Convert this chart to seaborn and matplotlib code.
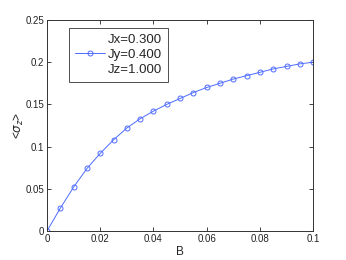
import numpy as np
import pandas as pd
import matplotlib
matplotlib.use('Agg')
import matplotlib.pyplot as plt
import seaborn as sns
from matplotlib.lines import Line2D

# data
b_values = [0.000, 0.005, 0.010, 0.015, 0.020, 0.025, 0.030, 0.035, 0.040, 0.045, 0.050,
            0.055, 0.060, 0.065, 0.070, 0.075, 0.080, 0.085, 0.090, 0.095, 0.100]
sigma_z = [0.000, 0.027, 0.052, 0.074, 0.092, 0.108, 0.122, 0.133, 0.142, 0.150, 0.157,
           0.164, 0.170, 0.175, 0.180, 0.184, 0.188, 0.192, 0.195, 0.198, 0.200]
legend_labels = ['Jx=0.300', 'Jy=0.400', 'Jz=1.000']
x_ticks = [0, 0.02, 0.04, 0.06, 0.08, 0.1]
x_tick_labels = ['0', '0.02', '0.04', '0.06', '0.08', '0.1']
y_ticks = [0, 0.05, 0.1, 0.15, 0.2, 0.25]
y_tick_labels = ['0', '0.05', '0.1', '0.15', '0.2', '0.25']

line_color = '#4f6cff'

sns.set_style('ticks')
plt.rcParams['font.family'] = ['Liberation Sans', 'DejaVu Sans']

df = pd.DataFrame({'B': b_values, 'sz': sigma_z})

fig = plt.figure(figsize=(3.46, 2.60), dpi=100)
ax = fig.add_axes([0.136, 0.112, 0.769, 0.811])

sns.lineplot(data=df, x='B', y='sz', ax=ax, color=line_color, linewidth=0.7,
             marker='o', markersize=3.6, markerfacecolor='none',
             markeredgecolor=line_color, markeredgewidth=0.7)

ax.set_xlim(0, 0.1)
ax.set_ylim(0, 0.25)
ax.set_xticks(x_ticks)
ax.set_xticklabels(x_tick_labels)
ax.set_yticks(y_ticks)
ax.set_yticklabels(y_tick_labels)
ax.tick_params(direction='in', length=3, width=0.6, labelsize=7, colors='#222222',
               top=True, right=True, pad=2)
for s in ax.spines.values():
    s.set_visible(True)
    s.set_linewidth(0.7)
    s.set_color('#333333')

ax.set_xlabel('B', fontsize=8.5, labelpad=2)
ax.set_ylabel('<$\\sigma_z$>', fontsize=8.5, labelpad=0)

handles = [
    Line2D([], [], linestyle='none', marker=None),
    Line2D([], [], color=line_color, linewidth=0.7, marker='o', markersize=3.6,
           markerfacecolor='none', markeredgewidth=0.7),
    Line2D([], [], linestyle='none', marker=None),
]
leg = ax.legend(handles, legend_labels, loc='upper left', bbox_to_anchor=(0.083, 0.962),
                fontsize=9.5, frameon=True, fancybox=False, edgecolor='#222222',
                handlelength=2.3, handletextpad=0.2, borderpad=0.45, labelspacing=0.2,
                borderaxespad=0, markerfirst=True)
leg.get_frame().set_linewidth(0.7)
for t in leg.get_texts():
    t.set_ha('right')
leg._legend_box.align = 'right'

fig.savefig('out.png', dpi=100)
